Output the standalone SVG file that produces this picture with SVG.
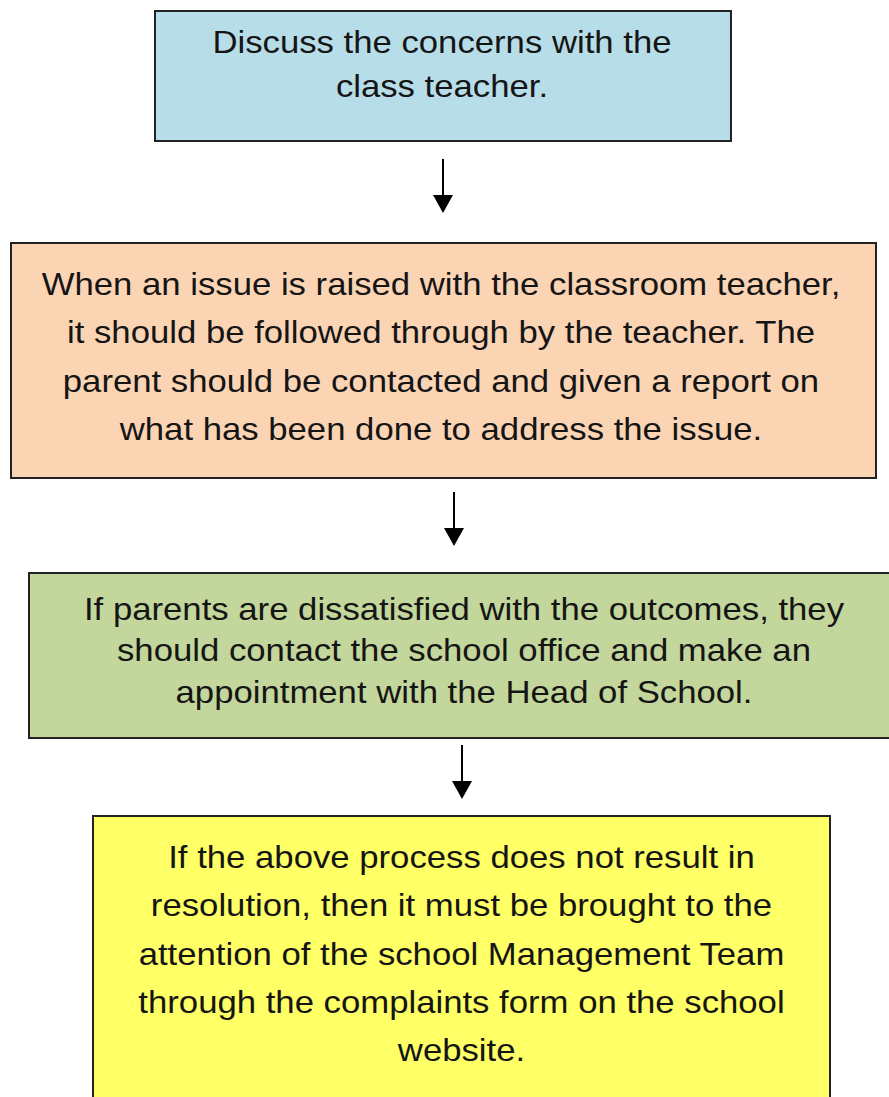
<svg xmlns="http://www.w3.org/2000/svg" width="889" height="1097" viewBox="0 0 889 1097">
<style>
.box{stroke:#222;stroke-width:2}
.t{font-family:"Liberation Sans",Arial,sans-serif;font-size:32px;fill:#151515;text-anchor:middle}
.c{stroke:#000;stroke-width:2;fill:none}
</style>
<defs>
<marker id="ah" markerUnits="userSpaceOnUse" markerWidth="20" markerHeight="22" refX="0" refY="0" viewBox="0 -11 20 22" orient="auto" overflow="visible">
<path d="M0,-10 L18,0 L0,10 z" fill="#000"/>
</marker>
</defs>
<rect width="889" height="1097" fill="#fff"/>
<g id="n1">
<rect class="box" x="155" y="11" width="576" height="130" fill="#B7DDE8"/>
<g transform="matrix(1.085,0,0,1,-37.57,0)">
<text class="t" x="442" y="53">Discuss the concerns with the</text>
<text class="t" x="442" y="97">class teacher.</text>
</g>
</g>
<g id="n2">
<rect class="box" x="11" y="243" width="865" height="235" fill="#FBD4B4"/>
<g transform="matrix(1.085,0,0,1,-37.49,0)">
<text class="t" x="441" y="295">When an issue is raised with the classroom teacher,</text>
<text class="t" x="441" y="343.5">it should be followed through by the teacher. The</text>
<text class="t" x="441" y="392">parent should be contacted and given a report on</text>
<text class="t" x="441" y="440">what has been done to address the issue.</text>
</g>
</g>
<g id="n3">
<rect class="box" x="29" y="573" width="873" height="165" fill="#C3D69B"/>
<g transform="matrix(1.085,0,0,1,-39.44,0)">
<text class="t" x="464" y="620">If parents are dissatisfied with the outcomes, they</text>
<text class="t" x="464" y="661.5">should contact the school office and make an</text>
<text class="t" x="464" y="703">appointment with the Head of School.</text>
</g>
</g>
<g id="n4">
<rect class="box" x="93" y="816" width="737" height="300" fill="#FFFF66"/>
<g transform="matrix(1.085,0,0,1,-39.23,0)">
<text class="t" x="461.5" y="868">If the above process does not result in</text>
<text class="t" x="461.5" y="916.5">resolution, then it must be brought to the</text>
<text class="t" x="461.5" y="965">attention of the school Management Team</text>
<text class="t" x="461.5" y="1013">through the complaints form on the school</text>
<text class="t" x="461.5" y="1061">website.</text>
</g>
</g>
<g id="connectors">
<line class="c" x1="443" y1="159" x2="443" y2="195" marker-end="url(#ah)"/>
<line class="c" x1="454" y1="492" x2="454" y2="528" marker-end="url(#ah)"/>
<line class="c" x1="462" y1="745" x2="462" y2="781" marker-end="url(#ah)"/>
</g>
</svg>
